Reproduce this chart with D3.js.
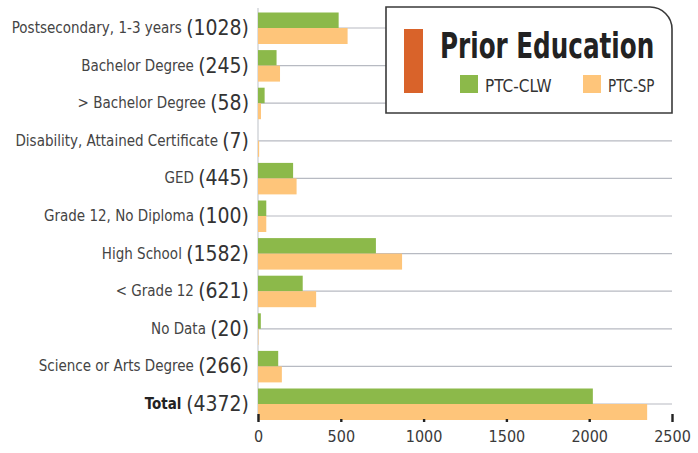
<!DOCTYPE html>
<html>
<head>
<meta charset="utf-8">
<script src="https://cdn.jsdelivr.net/npm/d3@7"></script>
<style>
  html, body { margin: 0; padding: 0; background: #fff; }
  svg { display: block; }
  text { font-family: "Liberation Sans Narrow", "DejaVu Sans Condensed", "Open Sans", sans-serif; }
</style>
</head>
<body>
<svg id="chart" width="698" height="453"></svg>
<script>
const categories = ["Postsecondary, 1-3 years", "Bachelor Degree", "> Bachelor Degree", "Disability, Attained Certificate", "GED", "Grade 12, No Diploma", "High School", "< Grade 12", "No Data", "Science or Arts Degree", "Total"];
const counts = [1028, 245, 58, 7, 445, 100, 1582, 621, 20, 266, 4372];
const clw = [487, 112, 40, 0, 212, 50, 712, 270, 17, 122, 2022];
const sp  = [541, 133, 18, 7, 233, 50, 870, 351, 3, 144, 2350];
const seriesNames = ["PTC-CLW", "PTC-SP"];
const xTicks = [0, 500, 1000, 1500, 2000, 2500];
const legendTitle = "Prior Education";

const colors = { "PTC-CLW": "#8cb94a", "PTC-SP": "#fec57a" };

const svg = d3.select("#chart");
const x = d3.scaleLinear().domain([0, 2500]).range([258, 672]);
const y = d3.scaleBand().domain(categories).range([9.2, 422.8]).padding(0);
const barH = 15.5;

// grid lines at category centers
svg.append("g").selectAll("line").data(categories).join("line")
  .attr("x1", x(0)).attr("x2", x(2500))
  .attr("y1", d => y(d) + y.bandwidth() / 2).attr("y2", d => y(d) + y.bandwidth() / 2)
  .attr("stroke", "#b7bac2").attr("stroke-width", 1.2);

// left axis line
svg.append("line").attr("x1", x(0)).attr("x2", x(0)).attr("y1", 8).attr("y2", 421)
  .attr("stroke", "#c8cbd0").attr("stroke-width", 1.2);

const data = categories.map((c, i) => ({ c, clw: clw[i], sp: sp[i] }));
svg.append("g").selectAll("rect").data(data).join("rect")
  .attr("x", x(0)).attr("y", d => y(d.c) + y.bandwidth() / 2 - barH)
  .attr("width", d => x(d.clw) - x(0)).attr("height", barH)
  .attr("fill", colors["PTC-CLW"]);
svg.append("g").selectAll("rect").data(data).join("rect")
  .attr("x", x(0)).attr("y", d => y(d.c) + y.bandwidth() / 2)
  .attr("width", d => x(d.sp) - x(0)).attr("height", barH + 0.5)
  .attr("fill", colors["PTC-SP"]);

// x axis
const xAxis = d3.axisBottom(x).tickValues(xTicks).tickSize(0).tickPadding(10).tickFormat(d3.format("d"));
const gx = svg.append("g").attr("transform", "translate(0,421)").call(xAxis);
gx.select(".domain").remove();
gx.selectAll("text").attr("font-size", 16).attr("fill", "#3a3a3a")
  .style("font-family", '"Liberation Sans Narrow", "DejaVu Sans Condensed", sans-serif');
gx.selectAll(".tick").append("rect")
  .attr("x", -1.2).attr("y", d => (d === 0 || d === 2500) ? -7 : -2)
  .attr("width", 2.4).attr("height", d => (d === 0 || d === 2500) ? 8 : 3)
  .attr("fill", "#222");

// y labels
const yl = svg.append("g").selectAll("text").data(categories).join("text")
  .attr("x", 249).attr("y", d => y(d) + y.bandwidth() / 2)
  .attr("text-anchor", "end").attr("dominant-baseline", "central");
yl.append("tspan").text(d => d + " ")
  .attr("font-size", 15)
  .attr("fill", d => d === "Total" ? "#222" : "#444")
  .attr("font-weight", d => d === "Total" ? "bold" : "normal");
yl.append("tspan").text((d, i) => "(" + counts[i] + ")")
  .attr("font-size", 21).attr("fill", "#333");

// legend
const lg = svg.append("g");
const L = 386, T = 7, R = 672, B = 113, rad = 22;
lg.append("path")
  .attr("d", `M${L},${T} H${R - rad} A${rad},${rad} 0 0 1 ${R},${T + rad} V${B} H${L} Z`)
  .attr("fill", "#fff").attr("stroke", "#3a3a3a").attr("stroke-width", 1.6);
lg.append("rect").attr("x", 404).attr("y", 29).attr("width", 19).attr("height", 64).attr("fill", "#d9632a");
lg.append("text").attr("transform", "translate(440,58) scale(1,1.27)").text(legendTitle)
  .attr("font-size", 27.4).attr("font-weight", "bold").attr("fill", "#222");
const items = [{ n: seriesNames[0], sx: 460, tx: 485, fs: 17 }, { n: seriesNames[1], sx: 583, tx: 608, fs: 15 }];
items.forEach(it => {
  lg.append("rect").attr("x", it.sx).attr("y", 75).attr("width", 18).attr("height", 18).attr("fill", colors[it.n]);
  lg.append("text").attr("transform", `translate(${it.tx},92) scale(1,${18 / it.fs})`).text(it.n)
    .attr("font-size", it.fs).attr("fill", "#333");
});
</script>
</body>
</html>
